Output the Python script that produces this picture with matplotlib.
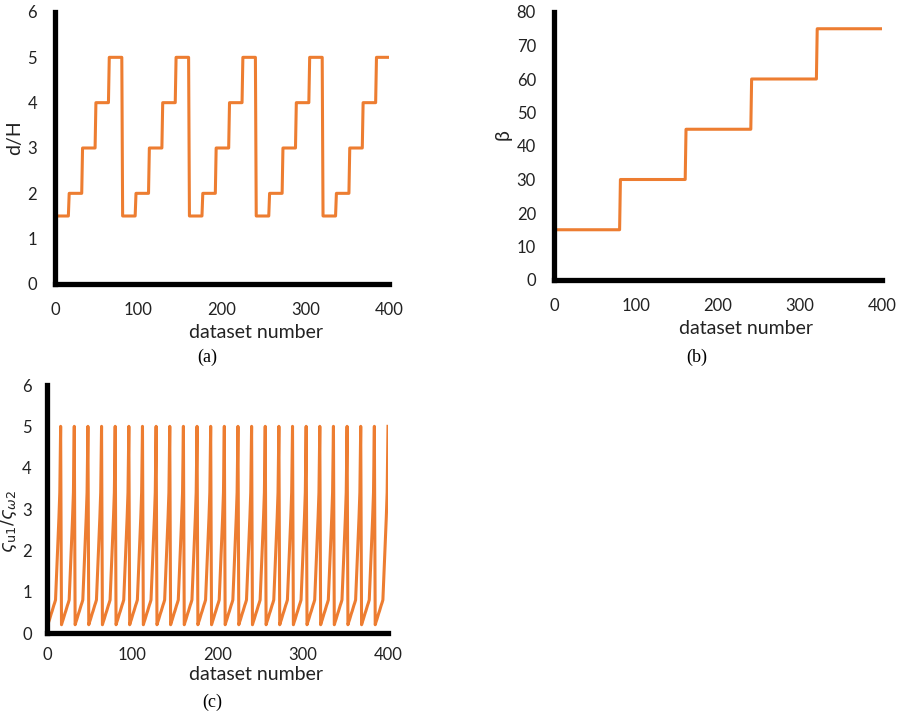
import numpy as np
import matplotlib
matplotlib.use("Agg")
import matplotlib.pyplot as plt

# ---- data ----
n_points = 400
dH_levels = [1.5, 2, 3, 4, 5]          # each held for 16 datasets, cycle of 80
dH_block = 16
beta_levels = [15, 30, 45, 60, 75]      # each held for 80 datasets
beta_block = 80
ratio_cycle = [0.2, 0.27, 0.33, 0.4, 0.47, 0.53, 0.6, 0.67, 0.73, 0.8,
               1.3, 1.8, 2.3, 2.8, 3.4, 5.0]  # repeats every 16 datasets
x_ticks = [0, 100, 200, 300, 400]

x = np.arange(1, n_points + 1)
dH = np.array([dH_levels[(i // dH_block) % len(dH_levels)] for i in range(n_points)])
beta = np.array([beta_levels[i // beta_block] for i in range(n_points)])
ratio = np.array([ratio_cycle[i % len(ratio_cycle)] for i in range(n_points)])

W, H = 903, 716
fig = plt.figure(figsize=(W / 100, H / 100), dpi=100)
plt.rcParams['font.family'] = ['Lato', 'DejaVu Sans']

ORANGE = '#ED7D31'
TICK_FS = 12
LAB_FS = 14


def add_ax(x0, y_top, x1, y_bot):
    return fig.add_axes([x0 / W, (H - y_bot) / H, (x1 - x0) / W, (y_bot - y_top) / H])


def style(ax, ylim, yticks):
    ax.set_xlim(0, 400)
    ax.set_ylim(*ylim)
    ax.set_xticks(x_ticks)
    ax.set_yticks(yticks)
    for s in ['top', 'right']:
        ax.spines[s].set_visible(False)
    for s in ['left', 'bottom']:
        ax.spines[s].set_linewidth(3.8)
        ax.spines[s].set_color('black')
    ax.tick_params(length=0, labelsize=TICK_FS, colors='#222222')
    ax.tick_params(axis='y', pad=13)
    ax.tick_params(axis='x', pad=13)
    ax.patch.set_alpha(0)


def ftext(px, py, s, **kw):
    fig.text(px / W, 1 - py / H, s, ha='center', va='center', **kw)


# (a)
axa = add_ax(55, 12, 389, 284)
axa.plot(x, dH, color=ORANGE, lw=2.2)
style(axa, (0, 6), range(0, 7))
ftext(15, 138, 'd/H', rotation=90, fontsize=LAB_FS, color='#222222')
ftext(256, 332, 'dataset number', fontsize=LAB_FS, color='#222222')
ftext(207, 357, '(a)', fontsize=13, family='Liberation Serif')

# (b)
axb = add_ax(554, 12, 882, 280)
axb.plot(x, beta, color=ORANGE, lw=2.2)
style(axb, (0, 80), range(0, 81, 10))
ftext(503, 135, 'β', rotation=90, fontsize=LAB_FS, color='#222222')
ftext(746, 328, 'dataset number', fontsize=LAB_FS, color='#222222')
ftext(697, 357, '(b)', fontsize=13, family='Liberation Serif')

# (c)
axc = add_ax(47, 385, 388, 633)
axc.plot(x, ratio, color=ORANGE, lw=2.2)
style(axc, (0, 6), range(0, 7))
axc.tick_params(axis='x', pad=10)
axc.tick_params(axis='y', pad=11)
ftext(9, 522, r'$\varsigma_{\mathrm{u1}}/\varsigma_{\omega 2}$', rotation=90,
      fontsize=13, color='#222222')
ftext(256, 675, 'dataset number', fontsize=LAB_FS, color='#222222')
ftext(212, 702, '(c)', fontsize=13, family='Liberation Serif')

fig.savefig('out.png', dpi=100)
